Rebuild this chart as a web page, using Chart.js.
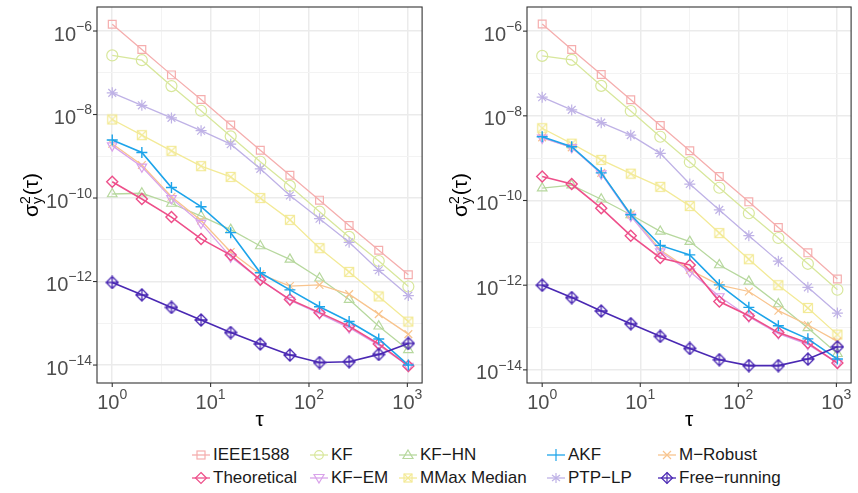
<!DOCTYPE html>
<html>
<head>
<meta charset="utf-8">
<script src="https://cdn.jsdelivr.net/npm/chart.js@4.4.1/dist/chart.umd.min.js"></script>
<style>
body { margin: 0; background: #fff; width: 858px; height: 493px; overflow: hidden; font-family: "Liberation Sans", Arial, sans-serif; }
canvas { position: absolute; top: 0; }
#cL { left: 0; }
#cR { left: 429px; }
.leg { position: absolute; font-size: 17px; color: #1a1a1a; white-space: nowrap; line-height: 20px; }
.leg svg { position: absolute; left: -22px; top: 2px; }
</style>
</head>
<body>
<canvas id="cL" width="429" height="430"></canvas>
<canvas id="cR" width="429" height="430"></canvas>
<div id="legend"></div>
<script>
// averaging time tau (s)
const taus = [1, 2, 4, 8, 16, 32, 64, 128, 256, 512, 1024];
const xTickExp = [0, 1, 2, 3];
const yTickExp = [-14, -12, -10, -8, -6];

// left panel
const ieeeL = [1.45e-6, 3.6e-7, 8.9e-8, 2.3e-8, 5.6e-9, 1.4e-9, 3.5e-10, 8.9e-11, 2.2e-11, 5.6e-12, 1.45e-12];
const kfL   = [2.6e-7, 2.0e-7, 4.8e-8, 1.23e-8, 3.0e-9, 7.4e-10, 1.95e-10, 4.7e-11, 1.17e-11, 3.1e-12, 7.6e-13];
const kfhnL = [1.25e-10, 1.3e-10, 7.4e-11, 3.7e-11, 1.75e-11, 7.1e-12, 3.4e-12, 1.2e-12, 3.7e-13, 8.5e-14, 2.3e-14];
const akfL  = [2.45e-9, 1.23e-9, 1.78e-10, 6.2e-11, 1.48e-11, 1.62e-12, 6.3e-13, 2.5e-13, 1.1e-13, 4.2e-14, 1.0e-14];
const mrobL = [2.0e-9, 6.2e-10, 1.07e-10, 2.9e-11, 5.1e-12, 1.5e-12, 7.8e-13, 8.3e-13, 5.0e-13, 1.66e-13, 5.5e-14];
const theoL = [2.45e-10, 9.5e-11, 3.5e-11, 1.05e-11, 4.3e-12, 1.1e-12, 3.7e-13, 1.8e-13, 8.5e-14, 3.2e-14, 9.5e-15];
const kfemL = [1.8e-9, 5.6e-10, 9.8e-11, 2.5e-11, 3.9e-12, 1.1e-12, 3.6e-13, 1.7e-13, 7.8e-14, 3.0e-14, 9.5e-15];
const mmaxL = [7.6e-9, 3.2e-9, 1.35e-9, 5.8e-10, 3.2e-10, 1.0e-10, 3.0e-11, 6.3e-12, 1.7e-12, 4.4e-13, 1.1e-13];
const ptpL  = [3.3e-8, 1.66e-8, 8.3e-9, 4.1e-9, 1.95e-9, 5.0e-10, 1.15e-10, 3.2e-11, 8.7e-12, 1.86e-12, 4.6e-13];
const freeL = [9.5e-13, 4.8e-13, 2.4e-13, 1.2e-13, 6.0e-14, 3.2e-14, 1.74e-14, 1.15e-14, 1.2e-14, 1.8e-14, 3.3e-14];

// right panel
const ieeeR = [1.48e-6, 3.7e-7, 9.5e-8, 2.4e-8, 5.9e-9, 1.5e-9, 3.7e-10, 9.3e-11, 2.3e-11, 5.8e-12, 1.4e-12];
const kfR   = [2.6e-7, 2.1e-7, 5.1e-8, 1.3e-8, 3.2e-9, 8.1e-10, 2.0e-10, 5.0e-11, 1.3e-11, 3.2e-12, 7.8e-13];
const kfhnR = [1.95e-10, 2.3e-10, 1.07e-10, 4.6e-11, 1.86e-11, 1.07e-11, 3.0e-12, 1.23e-12, 3.6e-13, 9.8e-14, 2.4e-14];
const akfR  = [3.2e-9, 1.86e-9, 4.5e-10, 4.6e-11, 8.7e-12, 5.2e-12, 1.02e-12, 3.0e-13, 1.1e-13, 5.4e-14, 1.8e-14];
const mrobR = [3.1e-9, 1.8e-9, 4.5e-10, 4.7e-11, 6.8e-12, 2.3e-12, 1.0e-12, 7.1e-13, 2.5e-13, 1.15e-13, 4.7e-14];
const theoR = [3.7e-10, 2.45e-10, 6.6e-11, 1.48e-11, 4.4e-12, 3.0e-12, 4.1e-13, 1.9e-13, 7.6e-14, 4.3e-14, 1.45e-14];
const kfemR = [3.0e-9, 1.8e-9, 4.3e-10, 4.3e-11, 6.2e-12, 2.1e-12, 5.4e-13, 1.8e-13, 7.2e-14, 4.0e-14, 1.45e-14];
const mmaxR = [5.1e-9, 2.2e-9, 9.1e-10, 4.3e-10, 2.1e-10, 7.4e-11, 1.7e-11, 4.1e-12, 1.0e-12, 2.9e-13, 6.8e-14];
const ptpR  = [2.75e-8, 1.38e-8, 6.9e-9, 3.5e-9, 1.3e-9, 2.45e-10, 6.0e-11, 1.48e-11, 3.7e-12, 8.9e-13, 2.2e-13];
const freeR = [1.0e-12, 5.1e-13, 2.45e-13, 1.23e-13, 6.2e-14, 3.2e-14, 1.74e-14, 1.26e-14, 1.26e-14, 1.8e-14, 3.5e-14];

const colors = {
  ieee: '#F5AEAE', kf: '#D8E79C', kfhn: '#B7D89E', akf: '#1DA4EA', mrob: '#F8C48E',
  theo: '#EE4F8A', kfem: '#D9A2EA', mmax: '#F3EA97', ptp: '#BFB2E6', free: '#4A28B3'
};

function boxX(c) {
  const cv = document.createElement('canvas');
  cv.width = cv.height = 12;
  const g = cv.getContext('2d');
  g.strokeStyle = c; g.lineWidth = 1.2;
  g.strokeRect(1.5, 1.5, 9, 9);
  g.beginPath(); g.moveTo(1.5, 1.5); g.lineTo(10.5, 10.5); g.moveTo(10.5, 1.5); g.lineTo(1.5, 10.5); g.stroke();
  return cv;
}
function diamondPlus(c) {
  const cv = document.createElement('canvas');
  cv.width = cv.height = 14;
  const g = cv.getContext('2d');
  g.strokeStyle = c; g.lineWidth = 1.3;
  g.beginPath(); g.moveTo(7, 1); g.lineTo(13, 7); g.lineTo(7, 13); g.lineTo(1, 7); g.closePath();
  g.moveTo(7, 1); g.lineTo(7, 13); g.moveTo(1, 7); g.lineTo(13, 7); g.stroke();
  return cv;
}

function series(label, data, color, style, bold, rot) {
  return {
    label: label,
    data: taus.map((t, i) => ({ x: t, y: data[i] })),
    borderColor: color,
    borderWidth: bold ? 1.6 : 1.3,
    pointStyle: style,
    pointRotation: rot || 0,
    pointRadius: 5.5,
    pointBorderColor: color,
    pointBorderWidth: bold ? 1.4 : 1.2,
    pointBackgroundColor: 'rgba(0,0,0,0)',
    tension: 0
  };
}

function buildSets(p) {
  return [
    series('Free-running', p.free, colors.free, diamondPlus(colors.free), true),
    series('AKF', p.akf, colors.akf, 'cross', true),
    series('Theoretical', p.theo, colors.theo, 'rectRot', true),
    series('KF-EM', p.kfem, colors.kfem, 'triangle', false, 180),
    series('M-Robust', p.mrob, colors.mrob, 'crossRot', false),
    series('KF-HN', p.kfhn, colors.kfhn, 'triangle', false),
    series('MMax Median', p.mmax, colors.mmax, boxX(colors.mmax), false),
    series('PTP-LP', p.ptp, colors.ptp, 'star', false),
    series('KF', p.kf, colors.kf, 'circle', false),
    series('IEEE1588', p.ieee, colors.ieee, 'rect', false)
  ];
}

const decorate = {
  id: 'decorate',
  afterDraw(chart) {
    const ctx = chart.ctx, ca = chart.chartArea;
    const xs = chart.scales.x, ys = chart.scales.y;
    ctx.save();
    ctx.strokeStyle = '#333333';
    ctx.lineWidth = 1.1;
    ctx.strokeRect(ca.left, ca.top, ca.right - ca.left, ca.bottom - ca.top);
    // y ticks
    ctx.fillStyle = '#4D4D4D';
    yTickExp.forEach(e => {
      const y = ys.getPixelForValue(Math.pow(10, e));
      ctx.beginPath(); ctx.moveTo(ca.left - 4, y); ctx.lineTo(ca.left, y); ctx.stroke();
      const exp = e < 0 ? '\u2212' + (-e) : String(e);
      ctx.font = '14px "Liberation Sans", Arial, sans-serif';
      const we = ctx.measureText(exp).width;
      ctx.textAlign = 'right'; ctx.textBaseline = 'middle';
      ctx.fillText(exp, ca.left - 5, y - 4);
      ctx.font = '20px "Liberation Sans", Arial, sans-serif';
      ctx.fillText('10', ca.left - 5 - we, y + 4);
    });
    // x ticks
    xTickExp.forEach(e => {
      const x = xs.getPixelForValue(Math.pow(10, e));
      ctx.beginPath(); ctx.moveTo(x, ca.bottom); ctx.lineTo(x, ca.bottom + 4); ctx.stroke();
      const exp = String(e);
      ctx.font = '14px "Liberation Sans", Arial, sans-serif';
      const we = ctx.measureText(exp).width;
      ctx.font = '20px "Liberation Sans", Arial, sans-serif';
      const wb = ctx.measureText('10').width;
      const x0 = x - (wb + we) / 2;
      ctx.textAlign = 'left'; ctx.textBaseline = 'middle';
      ctx.fillText('10', x0, 403);
      ctx.font = '14px "Liberation Sans", Arial, sans-serif';
      ctx.fillText(exp, x0 + wb, 395);
    });
    // axis titles
    ctx.fillStyle = '#000';
    ctx.font = '21px "Liberation Sans", Arial, sans-serif';
    ctx.textAlign = 'center'; ctx.textBaseline = 'middle';
    ctx.fillText('\u03C4', (ca.left + ca.right) / 2, 420);

    ctx.translate(30, (ca.top + ca.bottom) / 2);
    ctx.rotate(-Math.PI / 2);
    ctx.font = '21px "Liberation Sans", Arial, sans-serif';
    const wS = ctx.measureText('\u03C3').width;
    const wP = ctx.measureText('(\u03C4)').width;
    ctx.font = '14px "Liberation Sans", Arial, sans-serif';
    const wSc = Math.max(ctx.measureText('2').width, ctx.measureText('y').width);
    let sx = -(wS + wSc + 1 + wP) / 2;
    ctx.textAlign = 'left'; ctx.textBaseline = 'alphabetic';
    ctx.font = '21px "Liberation Sans", Arial, sans-serif';
    ctx.fillText('\u03C3', sx, 8);
    ctx.font = '14px "Liberation Sans", Arial, sans-serif';
    ctx.fillText('2', sx + wS, 0);
    ctx.fillText('y', sx + wS, 12);
    ctx.font = '21px "Liberation Sans", Arial, sans-serif';
    ctx.fillText('(\u03C4)', sx + wS + wSc + 1, 8);
    ctx.restore();
  }
};

function makeChart(id, sets, yMinExp, yMaxExp, axisW, padRight) {
  const gridStyle = {
    color: c => (c.tick && c.tick.big) ? '#EBEBEB' : '#F3F3F3',
    lineWidth: c => (c.tick && c.tick.big) ? 1.5 : 1,
    drawTicks: false
  };
  return new Chart(document.getElementById(id).getContext('2d'), {
    type: 'line',
    data: { datasets: sets },
    plugins: [decorate],
    options: {
      responsive: false,
      devicePixelRatio: 1,
      animation: false,
      layout: { padding: { top: 7, right: padRight, left: 0, bottom: 0 } },
      plugins: { legend: { display: false }, tooltip: { enabled: false } },
      scales: {
        x: {
          type: 'logarithmic',
          min: Math.pow(10, -0.14), max: Math.pow(10, 3.15),
          afterBuildTicks: s => {
            const t = [];
            for (let e = 0; e <= 3; e += 0.5) t.push({ value: Math.pow(10, e), big: e % 1 === 0 });
            s.ticks = t;
          },
          afterFit: s => { s.height = 47; },
          ticks: { display: false },
          grid: gridStyle,
          border: { display: false }
        },
        y: {
          type: 'logarithmic',
          min: Math.pow(10, yMinExp), max: Math.pow(10, yMaxExp),
          afterBuildTicks: s => {
            const t = [];
            for (let e = -14; e <= -6; e++) t.push({ value: Math.pow(10, e), big: e % 2 === 0 });
            s.ticks = t;
          },
          afterFit: s => { s.width = axisW; },
          ticks: { display: false },
          grid: gridStyle,
          border: { display: false }
        }
      }
    }
  });
}

makeChart('cL', buildSets({ ieee: ieeeL, kf: kfL, kfhn: kfhnL, akf: akfL, mrob: mrobL, theo: theoL, kfem: kfemL, mmax: mmaxL, ptp: ptpL, free: freeL }), -14.43, -5.425, 97, 3);
makeChart('cR', buildSets({ ieee: ieeeR, kf: kfR, kfhn: kfhnR, akf: akfR, mrob: mrobR, theo: theoR, kfem: kfemR, mmax: mmaxR, ptp: ptpR, free: freeR }), -14.31, -5.43, 98, 2);

// shared legend
function icon(kind, c) {
  let s = '<line x1="1" y1="8" x2="19" y2="8" stroke="' + c + '" stroke-width="1.3"/>';
  const st = 'fill="none" stroke="' + c + '" stroke-width="1.2"';
  if (kind === 'rect') s += '<rect x="6" y="4" width="8" height="8" ' + st + '/>';
  if (kind === 'circle') s += '<circle cx="10" cy="8" r="4.3" ' + st + '/>';
  if (kind === 'tri') s += '<polygon points="10,3 15,11.5 5,11.5" ' + st + '/>';
  if (kind === 'triDown') s += '<polygon points="10,13 15,4.5 5,4.5" ' + st + '/>';
  if (kind === 'plus') s += '<path d="M10 2V14" ' + st + '/>';
  if (kind === 'x') s += '<path d="M6 4L14 12M14 4L6 12" ' + st + '/>';
  if (kind === 'diamond') s += '<polygon points="10,2.5 15.5,8 10,13.5 4.5,8" ' + st + '/>';
  if (kind === 'boxX') s += '<rect x="6" y="4" width="8" height="8" ' + st + '/><path d="M6 4L14 12M14 4L6 12" ' + st + '/>';
  if (kind === 'star') s += '<path d="M10 3V13M6 5L14 11M14 5L6 11" ' + st + '/>';
  if (kind === 'diamondPlus') s += '<polygon points="10,2.5 15.5,8 10,13.5 4.5,8" ' + st + '/><path d="M10 2.5V13.5" ' + st + '/>';
  return '<svg width="20" height="16" viewBox="0 0 20 16">' + s + '</svg>';
}

const legendNames = ['IEEE1588', 'KF', 'KF\u2212HN', 'AKF', 'M\u2212Robust', 'Theoretical', 'KF\u2212EM', 'MMax Median', 'PTP\u2212LP', 'Free\u2212running'];
const legendKinds = ['rect', 'circle', 'tri', 'plus', 'x', 'diamond', 'triDown', 'boxX', 'star', 'diamondPlus'];
const legendCols = [colors.ieee, colors.kf, colors.kfhn, colors.akf, colors.mrob, colors.theo, colors.kfem, colors.mmax, colors.ptp, colors.free];
const legendX = [213, 331, 420, 568, 679];
const legendY = [445, 468];

let html = '';
legendNames.forEach((n, i) => {
  const col = i % 5, row = Math.floor(i / 5);
  html += '<div class="leg" style="left:' + legendX[col] + 'px;top:' + legendY[row] + 'px">' +
    icon(legendKinds[i], legendCols[i]) + n + '</div>';
});
document.getElementById('legend').innerHTML = html;
</script>
</body>
</html>
